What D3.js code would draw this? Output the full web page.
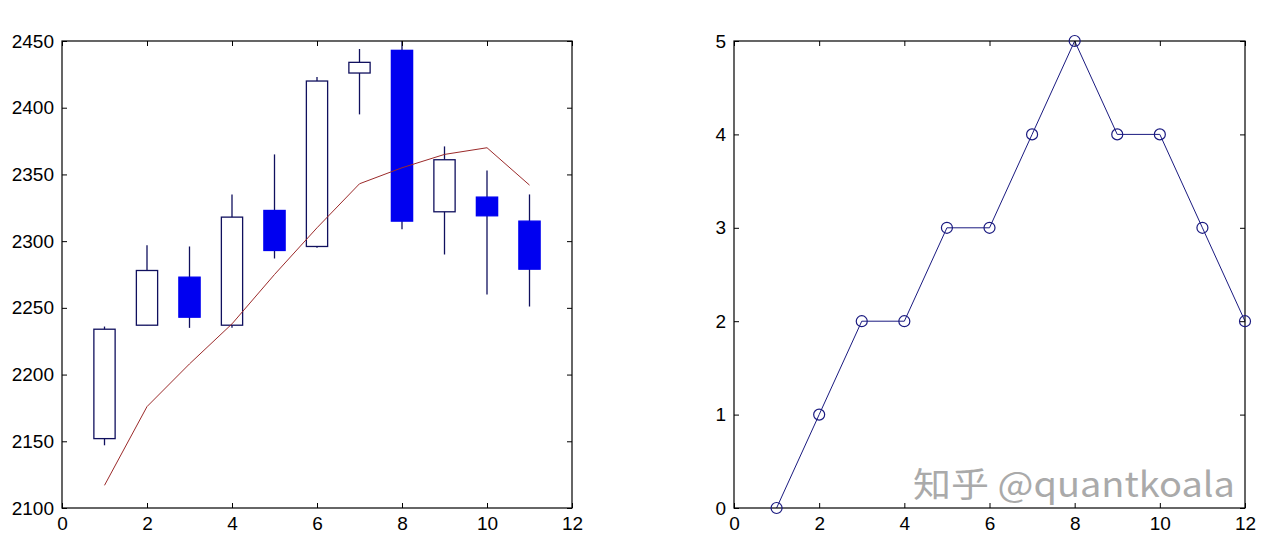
<!DOCTYPE html>
<html>
<head>
<meta charset="utf-8">
<script src="https://cdn.jsdelivr.net/npm/d3@7"></script>
<style>
  html, body { margin: 0; padding: 0; background: #fff; }
  svg { display: block; }
  .axis text { font-family: "Liberation Sans", Arial, sans-serif; font-size: 19px; fill: #000; }
  .axis path, .axis line { stroke: #000; }
</style>
</head>
<body>
<svg width="1269" height="543"></svg>
<script>
(function (d3) {
    'use strict';

    // candlestick data, x = 1..11
    var days   = [1, 2, 3, 4, 5, 6, 7, 8, 9, 10, 11];
    var open   = [2152, 2237, 2273, 2237, 2323, 2296, 2426, 2443, 2322, 2333, 2315];
    var high   = [2236, 2297, 2296, 2335, 2365, 2423, 2444, 2450, 2371, 2353, 2335];
    var low    = [2147, 2237, 2235, 2235, 2287, 2295, 2395, 2309, 2290, 2260, 2251];
    var close  = [2234, 2278, 2243, 2318, 2293, 2420, 2434, 2315, 2361, 2319, 2279];
    var movAvg = [2117, 2176, 2208, 2238, 2275, 2310, 2343, 2355, 2365, 2370, 2342];

    // right panel series, x = 1..12
    var steps  = [1, 2, 3, 4, 5, 6, 7, 8, 9, 10, 11, 12];
    var counts = [0, 1, 2, 2, 3, 3, 4, 5, 4, 4, 3, 2];

    var xTicks = [0, 2, 4, 6, 8, 10, 12];
    var yTicksLeft = [2100, 2150, 2200, 2250, 2300, 2350, 2400, 2450];
    var yTicksRight = [0, 1, 2, 3, 4, 5];

    var svg = d3.select('svg');
    var tickLen = 5;
    var fmt = d3.format('d');

    function frame(g, x, y, yTicks) {
        var x0 = x.range()[0], x1 = x.range()[1],
            y0 = y.range()[0], y1 = y.range()[1];

        g.append('g').attr('class', 'axis')
            .attr('transform', 'translate(0,' + y0 + ')')
            .call(d3.axisBottom(x).tickValues(xTicks).tickFormat(fmt).tickSizeInner(-tickLen).tickSizeOuter(0).tickPadding(9))
            .call(function (a) { a.select('.domain').remove(); });
        g.append('g').attr('class', 'axis')
            .attr('transform', 'translate(' + x0 + ',0)')
            .call(d3.axisLeft(y).tickValues(yTicks).tickFormat(fmt).tickSizeInner(-tickLen).tickSizeOuter(0).tickPadding(8))
            .call(function (a) { a.select('.domain').remove(); });
        g.append('g').attr('class', 'axis')
            .attr('transform', 'translate(0,' + y1 + ')')
            .call(d3.axisTop(x).tickValues(xTicks).tickSizeInner(-tickLen).tickSizeOuter(0).tickFormat(''))
            .call(function (a) { a.select('.domain').remove(); });
        g.append('g').attr('class', 'axis')
            .attr('transform', 'translate(' + x1 + ',0)')
            .call(d3.axisRight(y).tickValues(yTicks).tickSizeInner(-tickLen).tickSizeOuter(0).tickFormat(''))
            .call(function (a) { a.select('.domain').remove(); });

        g.append('rect')
            .attr('x', x0).attr('y', y1)
            .attr('width', x1 - x0).attr('height', y0 - y1)
            .attr('fill', 'none').attr('stroke', '#000').attr('stroke-width', 1.2);
    }

    // ---- left: candlestick chart ----
    var xl = d3.scaleLinear().domain([0, 12]).range([62, 572]),
        yl = d3.scaleLinear().domain([2100, 2450]).range([508, 41]);

    var left = svg.append('g');

    var candles = days.map(function (d, i) {
        return { x: d, o: open[i], h: high[i], l: low[i], c: close[i] };
    });

    var bodyW = xl(0.5) - xl(0);

    left.selectAll('.wick')
        .data(candles)
        .enter()
        .append('line')
        .attr('class', 'wick')
        .attr('x1', function (d) { return xl(d.x); })
        .attr('x2', function (d) { return xl(d.x); })
        .attr('y1', function (d) { return yl(d.h); })
        .attr('y2', function (d) { return yl(d.l); })
        .attr('stroke', '#10105e')
        .attr('stroke-width', 1.3);

    left.selectAll('.body')
        .data(candles)
        .enter()
        .append('rect')
        .attr('class', 'body')
        .attr('x', function (d) { return xl(d.x) - bodyW / 2; })
        .attr('width', bodyW)
        .attr('y', function (d) { return yl(Math.max(d.o, d.c)); })
        .attr('height', function (d) { return Math.abs(yl(d.o) - yl(d.c)); })
        .attr('fill', function (d) { return d.c < d.o ? '#0000f0' : '#fff'; })
        .attr('stroke', function (d) { return d.c < d.o ? '#0000f0' : '#10105e'; })
        .attr('stroke-width', 1.3);

    left.append('path')
        .datum(days.map(function (d, i) { return [d, movAvg[i]]; }))
        .attr('fill', 'none')
        .attr('stroke', '#9b2a2a')
        .attr('stroke-width', 1)
        .attr('d', d3.line()
            .x(function (d) { return xl(d[0]); })
            .y(function (d) { return yl(d[1]); }));

    frame(left, xl, yl, yTicksLeft);

    // ---- right: step count line with circles ----
    var xr = d3.scaleLinear().domain([0, 12]).range([734, 1245]),
        yr = d3.scaleLinear().domain([0, 5]).range([508, 41]);

    var right = svg.append('g');

    var pts = steps.map(function (d, i) { return [d, counts[i]]; });

    right.append('path')
        .datum(pts)
        .attr('fill', 'none')
        .attr('stroke', '#1a1a80')
        .attr('stroke-width', 1)
        .attr('d', d3.line()
            .x(function (d) { return xr(d[0]); })
            .y(function (d) { return yr(d[1]); }));

    frame(right, xr, yr, yTicksRight);

    right.selectAll('.dot')
        .data(pts)
        .enter()
        .append('circle')
        .attr('class', 'dot')
        .attr('cx', function (d) { return xr(d[0]); })
        .attr('cy', function (d) { return yr(d[1]); })
        .attr('r', 5.5)
        .attr('fill', 'none')
        .attr('stroke', '#1a1a80')
        .attr('stroke-width', 1.2);

    // watermark
    svg.append('text')
        .attr('x', 913)
        .attr('y', 497)
        .attr('textLength', 322)
        .attr('lengthAdjust', 'spacingAndGlyphs')
        .style('font-family', '"Noto Sans CJK SC", "Liberation Sans", sans-serif')
        .style('font-size', '34px')
        .style('fill', '#aaaaaa')
        .style('stroke', '#fff')
        .style('stroke-width', 0.6)
        .style('paint-order', 'stroke')
        .text('知乎 @quantkoala');

})(window.d3);
</script>
</body>
</html>
